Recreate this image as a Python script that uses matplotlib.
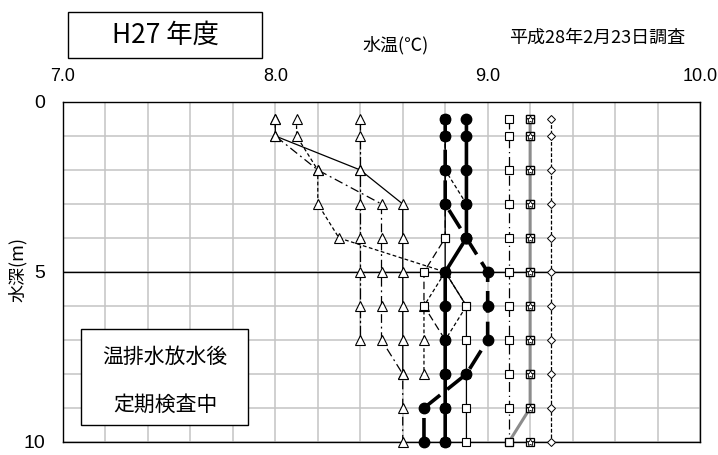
import matplotlib
matplotlib.use("Agg")
import matplotlib.pyplot as plt
from matplotlib.patches import Rectangle

plt.rcParams['font.family'] = ['Noto Sans CJK JP', 'DejaVu Sans']

# depth (m)
depth = [0.5, 1, 2, 3, 4, 5, 6, 7, 8, 9, 10]

# water temperature (deg C) per station
t_solid = [8.0, 8.0, 8.4, 8.6, 8.6, 8.6, 8.6, 8.6, 8.6]
t_dashdot = [8.4, 8.4, 8.4, 8.4, 8.4, 8.4, 8.4, 8.4]
t_dashdot2 = [8.0, 8.0, 8.2, 8.5, 8.5, 8.5, 8.5, 8.5, 8.6, 8.6, 8.6]
t_dash = [8.1, 8.1, 8.2, 8.2, 8.3, 8.8, 8.7, 8.7, 8.7]
s_long = [8.8, 8.8, 8.8, 8.8, 8.8, 8.7, 8.7, 8.8, 8.8, 8.8, 8.8]
s_solid = [8.8, 8.8, 8.8, 8.8, 8.8, 8.8, 8.9, 8.9, 8.9, 8.9, 8.9]
s_short = [8.8, 8.8, 8.8, 8.9, 8.9, 8.8, 8.9, 8.8, 8.8, 8.8, 8.8]
c_dash = [8.8, 8.8, 8.8, 8.8, 8.9, 9.0, 9.0, 9.0, 8.9, 8.7, 8.7]
c_solid = [8.9, 8.9, 8.9, 8.9, 8.9, 8.8, 8.8, 8.8, 8.8, 8.8, 8.8]
s_right = [9.1, 9.1, 9.1, 9.1, 9.1, 9.1, 9.1, 9.1, 9.1, 9.1, 9.1]
g_grey = [9.2, 9.2, 9.2, 9.2, 9.2, 9.2, 9.2, 9.2, 9.2, 9.2, 9.1]
star = [9.2, 9.2, 9.2, 9.2, 9.2, 9.2, 9.2, 9.2, 9.2, 9.2, 9.2]
diamond = [9.3, 9.3, 9.3, 9.3, 9.3, 9.3, 9.3, 9.3, 9.3, 9.3, 9.3]

xticks = [7.0, 8.0, 9.0, 10.0]
yticks = [0, 5, 10]

fig = plt.figure(figsize=(7.18, 4.55), dpi=100)
ax = fig.add_axes([63/718, 1-442/455, 637/718, 340/455])

tri = dict(marker='^', ms=6.5, mfc='white', mec='black', mew=0.8, color='black', lw=0.9, clip_on=False)
sq = dict(marker='s', ms=5.5, mfc='white', mec='black', mew=0.8, color='black', lw=0.9, clip_on=False)

ax.plot(t_dash, depth[:len(t_dash)], dashes=(3, 2), zorder=3, **tri)
ax.plot(t_dashdot2, depth[:len(t_dashdot2)], dashes=(7, 3, 1.5, 3), zorder=3, **tri)
ax.plot(t_dashdot, depth[:len(t_dashdot)], dashes=(9, 2, 2, 2), zorder=3, **tri)
ax.plot(t_solid, depth[:len(t_solid)], zorder=3, **tri)

ax.plot(s_short, depth, dashes=(3, 2), zorder=4, **sq)
ax.plot(s_long, depth, dashes=(6, 3), zorder=4, **sq)
ax.plot(s_solid, depth, zorder=4, **sq)

ax.plot(c_dash, depth, color='black', lw=2.6, dashes=(6, 2.5), marker='o', ms=7.5,
        mfc='black', mec='black', zorder=5, clip_on=False)
ax.plot(c_solid, depth, color='black', lw=2.6, marker='o', ms=7.5,
        mfc='black', mec='black', zorder=5, clip_on=False)

ax.plot(s_right, depth, dashes=(8, 3, 1, 3), zorder=4, **sq)
ax.plot(g_grey, depth, color='#8c8c8c', lw=2.2, marker='s', ms=5.5, mfc='white',
        mec='black', mew=0.9, zorder=4, clip_on=False)
# square + star overlay at 9.2
ax.plot(star, depth, lw=0, marker='s', ms=5.5, mfc='white',
        mec='black', mew=0.9, zorder=4.5, clip_on=False)
ax.plot(star, depth, lw=0, marker='*', ms=6, mfc='white',
        mec='black', mew=0.6, zorder=5, clip_on=False)
ax.plot(diamond, depth, color='black', lw=0.9, dashes=(3, 1.5), marker='D', ms=4.2,
        mfc='white', mec='black', mew=0.7, zorder=4, clip_on=False)

ax.set_xlim(7.0, 10.0)
ax.set_ylim(10, 0)
ax.set_xticks([7.0 + 0.2*i for i in range(16)], minor=True)
ax.set_yticks(range(11), minor=True)
ax.set_xticks(xticks)
ax.set_yticks(yticks)
ax.xaxis.tick_top()
num_font = ['Liberation Sans', 'DejaVu Sans']
ax.set_xticklabels([f"{v:.1f}" for v in xticks], family=num_font, fontsize=13)
ax.set_yticklabels([str(v) for v in yticks], family=num_font, fontsize=14)
ax.tick_params(which='both', length=0)
ax.tick_params(axis='x', pad=12)
ax.tick_params(axis='y', pad=13)
ax.grid(which='both', color='#c4c4c4', lw=1.1, zorder=0)
ax.set_axisbelow(True)
ax.axhline(5, color='black', lw=1.0, zorder=2)
for s in ax.spines.values():
    s.set_color('black')
    s.set_linewidth(1.0)

fig.text(18/718, 1-270/455, '水深(m)', rotation=90, ha='center', va='center', fontsize=13)
fig.text(396/718, 1-45/455, '水温(℃)', ha='center', va='center', fontsize=13)
fig.text(597/718, 1-38/455, '平成28年2月23日調査', ha='center', va='center', fontsize=13)

fig.patches.append(Rectangle((68/718, 1-58/455), 194/718, 46/455, transform=fig.transFigure,
                             fill=False, ec='black', lw=1.0))
fig.text(165/718, 1-35/455, 'H27 年度', ha='center', va='center', fontsize=19)

ax.add_patch(Rectangle((0.0275, 0.05), 0.2636, 0.283, transform=ax.transAxes,
                       facecolor='white', edgecolor='black', lw=1.0, zorder=6))
fig.text(165/718, 1-357/455, '温排水放水後', ha='center', va='center', fontsize=15, zorder=7)
fig.text(165/718, 1-405/455, '定期検査中', ha='center', va='center', fontsize=15, zorder=7)

fig.savefig('out.png', dpi=100)
